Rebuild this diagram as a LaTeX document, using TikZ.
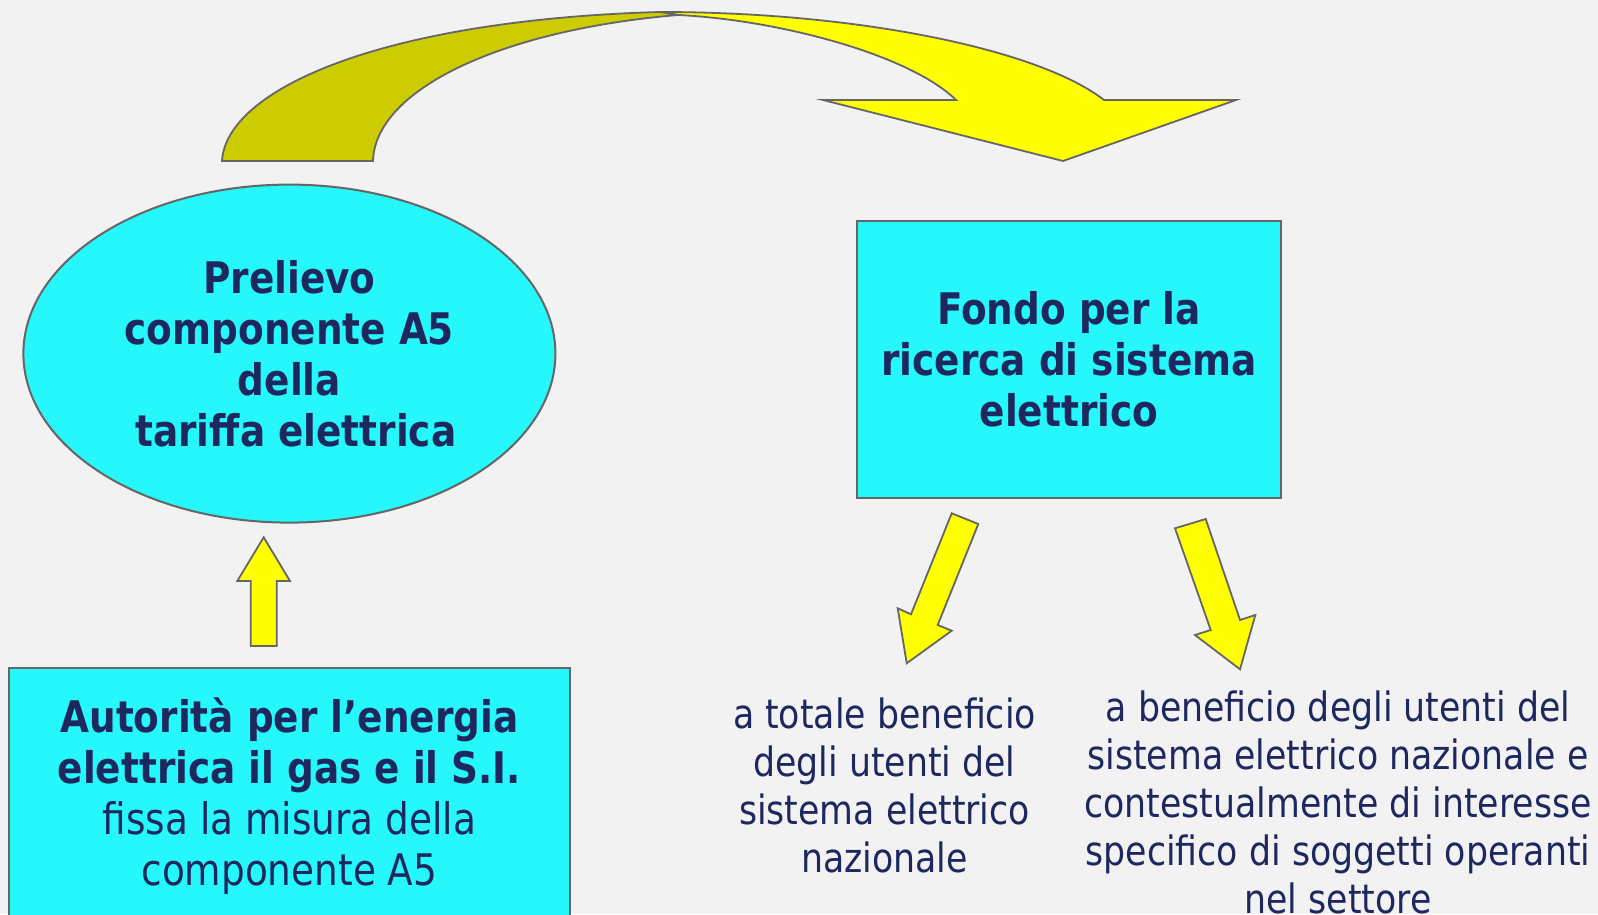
\documentclass[tikz,border=0pt]{standalone}
\usepackage{fontspec}
\setmainfont{DejaVu Sans}[FakeStretch=0.86]
\usetikzlibrary{positioning, shapes.geometric}

\definecolor{pagebg}{RGB}{242,242,242}
\definecolor{boxcyan}{RGB}{38,247,251}
\definecolor{edgegray}{RGB}{102,102,102}
\definecolor{textnavy}{RGB}{30,40,95}
\definecolor{arrowyellow}{RGB}{255,255,0}
\definecolor{arrowolive}{RGB}{204,204,0}

\newcommand{\boldtxt}{\fontsize{21.75}{25.5}\selectfont\bfseries}
\newcommand{\notetxt}{\fontsize{20.2}{24}\selectfont}

\begin{document}
\begin{tikzpicture}[
        x=0.5pt, y=-0.5pt,
        every node/.style={text=textnavy, align=center, inner sep=0pt},
        cyanshape/.style={draw=edgegray, line width=1pt, fill=boxcyan},
        blockarrow/.style={draw=edgegray, line width=0.9pt, fill=arrowyellow, line join=miter}
        ]
        \useasboundingbox (0,0) rectangle (1598,914);
        \clip (0,0) rectangle (1598,914);
        \fill[pagebg] (0,0) rectangle (1598,914);

        % Nodes
        \node (prelievo) [cyanshape, ellipse, minimum width=266pt, minimum height=169pt, font=\boldtxt]
            at (289.4,353.6) {Prelievo\\componente A5\\della\\\hspace*{6.5pt}tariffa elettrica};
        \node (fondo) [cyanshape, rectangle, minimum width=212pt, minimum height=138.5pt, font=\boldtxt]
            at (1069,359.5) {Fondo per la\\ricerca di sistema\\elettrico};
        \node (autorita) [cyanshape, rectangle, minimum width=280.75pt, minimum height=140pt, anchor=north]
            at (289.25,667) {};
        \node (autoritatxt) [font=\fontsize{21.75}{25.5}\selectfont] at (289.4,796)
            {{\bfseries Autorità per l’energia}\\{\bfseries elettrica il gas e il S.I.}\\fissa la misura della\\componente A5};
        \node (totale) [font=\notetxt] at (884.5,785.5)
            {a totale beneficio\\degli utenti del\\sistema elettrico\\nazionale};
        \node (specifico) [font=\notetxt] at (1338,802)
            {a beneficio degli utenti del\\sistema elettrico nazionale e\\contestualmente di interesse\\specifico di soggetti operanti\\nel settore};

        % Arrows
        \draw[blockarrow] (660,12) .. controls (860,12) and (1040,50) .. (1104,100)
            -- (1236,100) -- (1063,161) -- (823,100) -- (956,100)
            .. controls (910,55) and (780,20) .. (678,15) -- cycle;
        \draw[blockarrow, fill=arrowolive] (222,161) .. controls (226,90) and (380,20) .. (660,12)
            -- (678,15) .. controls (500,30) and (375,90) .. (373,161) -- cycle;
        \draw[blockarrow] (250.7,646) -- (250.7,581) -- (237.3,581) -- (263.7,537.3)
            -- (290,581) -- (276.7,581) -- (276.7,646) -- cycle;
        \draw[blockarrow] (951.7,513.3) -- (978.3,524) -- (937.7,625) -- (951.7,630.7)
            -- (906.7,663.3) -- (897.7,608.3) -- (911,614.3) -- cycle;
        \draw[blockarrow] (1175,528.3) -- (1205.7,519) -- (1240,620) -- (1255.3,615)
            -- (1240,669.3) -- (1195,635) -- (1210.7,630) -- cycle;
\end{tikzpicture}
\end{document}
